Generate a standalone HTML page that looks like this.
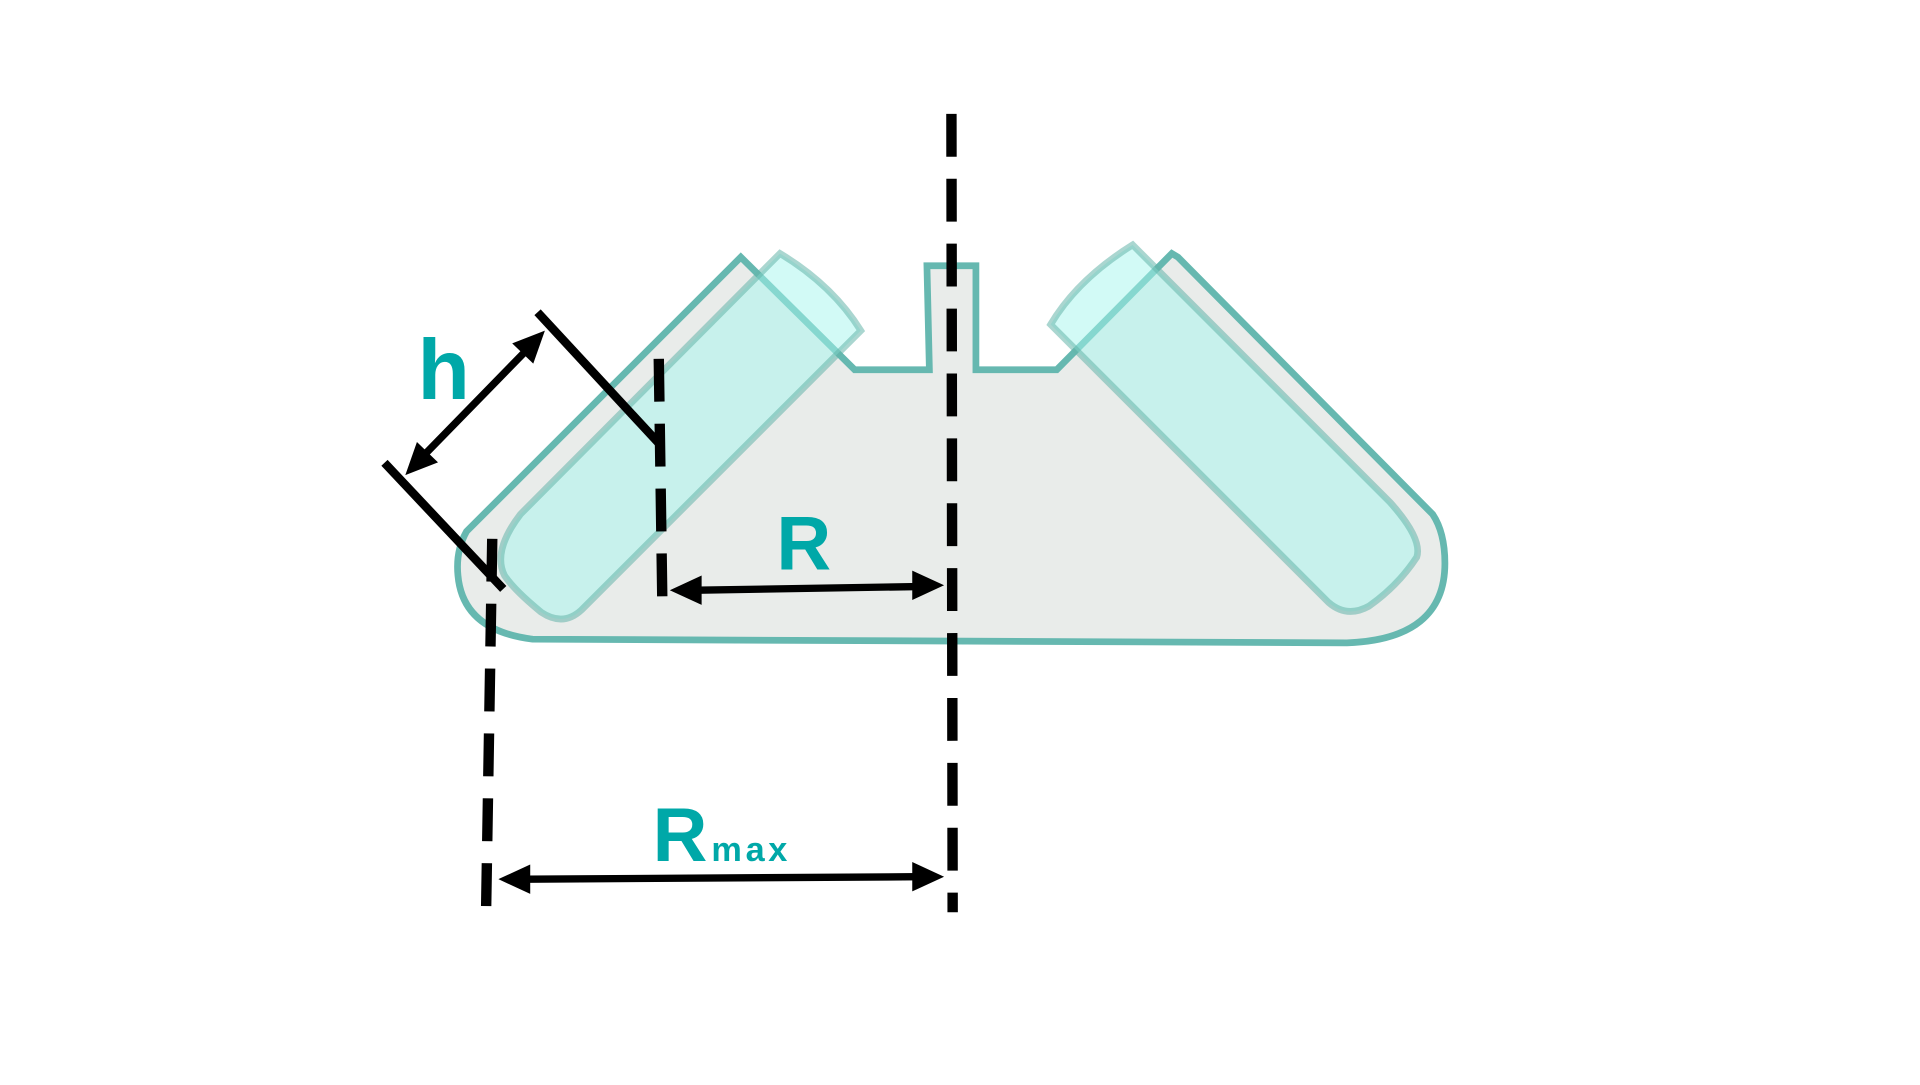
<!DOCTYPE html>
<html><head><style>html,body{margin:0;padding:0;background:#fff;overflow:hidden}</style></head>
<body>
<svg width="1920" height="1080" viewBox="0 0 1568 882" xmlns="http://www.w3.org/2000/svg">
<path d="M605,210 L381,434 Q372,450 374,470 Q378,515 435,522 L1100,525 Q1180,522 1180,460 Q1180,435 1170,420 L962,210 L957,207 L863,302 L797,302 L797,217 L757,217 L759,302 L698,302 Z" fill="#e9ecea" stroke="#66b8b0" stroke-width="5.5"/>
<path d="M637,207 Q680,233 703,270 L475,498 Q460,512 442,500 Q420,482 412,470 Q402,450 425,420 Z" fill="rgba(165,245,238,0.5)" stroke="rgba(100,180,170,0.55)" stroke-width="5.5"/>
<path d="M925,200 Q880,228 858,265 L1085,492 Q1100,505 1118,495 Q1142,478 1157,455 Q1162,440 1135,410 Z" fill="rgba(165,245,238,0.5)" stroke="rgba(100,180,170,0.55)" stroke-width="5.5"/>
<g stroke="#000" stroke-width="8.5" stroke-dasharray="35,18" fill="none">
<line x1="777" y1="93" x2="778" y2="745"/>
<line x1="538" y1="293" x2="541" y2="498"/>
<line x1="402" y1="440" x2="397" y2="742"/>
</g>
<g stroke="#000" stroke-width="7">
<line x1="439" y1="255" x2="538" y2="362"/>
<line x1="314" y1="378" x2="411" y2="481"/>
</g>
<g stroke="#000" stroke-width="6">
<line x1="430" y1="286" x2="346" y2="372"/>
<line x1="570" y1="482" x2="750" y2="479"/>
<line x1="430" y1="718" x2="750" y2="716"/>
</g>
<g fill="#000">
<polygon points="445,270 435.5,297 418.3,280.4"/>
<polygon points="331,388 357.7,377.6 340.5,361"/>
<polygon points="547,482 573,470 573,494"/>
<polygon points="771,478 745,466 745,490"/>
<polygon points="407,718 433,706 433,730"/>
<polygon points="771,716 745,704 745,728"/>
</g>
<g font-family="Liberation Sans, sans-serif" font-weight="bold" fill="#00a8a8">
<text x="341" y="326" font-size="70">h</text>
<text x="634" y="465" font-size="62">R</text>
<text x="533" y="703" font-size="62">R</text>
<text x="581" y="703" font-size="28" letter-spacing="3">max</text>
</g>
</svg>
</body></html>
